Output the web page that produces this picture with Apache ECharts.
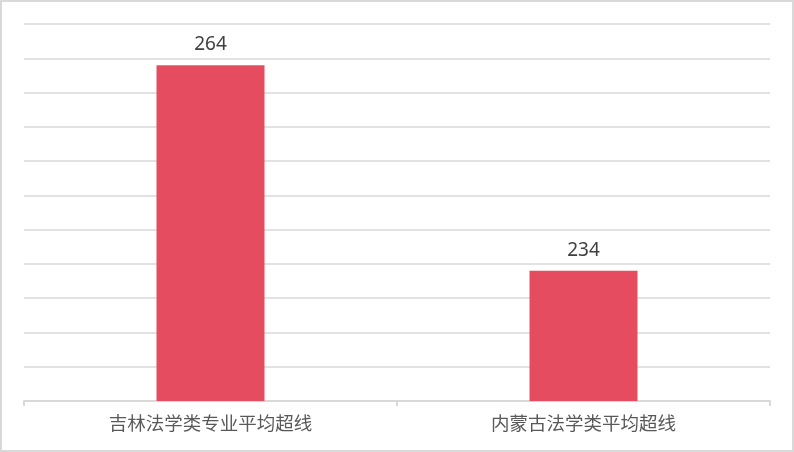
<!DOCTYPE html>
<html>
<head>
<meta charset="utf-8">
<script src="https://cdn.jsdelivr.net/npm/echarts@6/dist/echarts.min.js"></script>
<style>
  html, body { margin: 0; padding: 0; background: #fff; }
  #main { width: 794px; height: 452px; box-sizing: border-box; border: 2px solid #d9d9d9; }
</style>
</head>
<body>
<div id="main"></div>
<script>
// 分类与数值
var categories = ['吉林法学类专业平均超线', '内蒙古法学类平均超线'];
var values = [264, 234];
var yMin = 215, yMax = 270, yStep = 5;

var myChart = echarts.init(document.getElementById('main'));
var option = {
    animation: false,
    grid: { left: 22, right: 22, top: 22, bottom: 49 },
    xAxis: {
        type: 'category',
        data: categories,
        axisLine: { lineStyle: { color: '#d9d9d9', width: 2 } },
        axisTick: { show: true, length: 5, lineStyle: { color: '#d9d9d9', width: 2 } },
        axisLabel: {
            color: '#595959',
            fontSize: 18.5,
            margin: 13,
            fontFamily: 'Noto Sans CJK SC'
        }
    },
    yAxis: {
        type: 'value',
        min: yMin,
        max: yMax,
        interval: yStep,
        axisLabel: { show: false },
        axisLine: { show: false },
        axisTick: { show: false },
        splitLine: { lineStyle: { color: '#e2e2e2', width: 2 } }
    },
    series: [
        {
            type: 'bar',
            data: values,
            barWidth: 108,
            itemStyle: { color: '#e64c5f' },
            label: {
                show: true,
                position: 'top',
                distance: 11,
                color: '#404040',
                fontSize: 19,
                fontFamily: 'Noto Sans'
            }
        }
    ]
};
myChart.setOption(option);
</script>
</body>
</html>
